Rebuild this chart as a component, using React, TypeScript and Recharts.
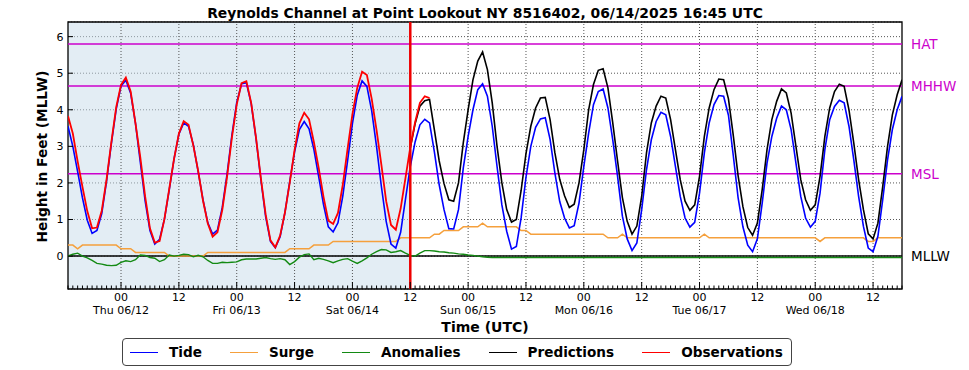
import { CartesianGrid, Line, LineChart, ReferenceArea, ReferenceLine, XAxis, YAxis } from "recharts";

// hours are counted from Thu 06/12 00:00 UTC; the series start at 06/11 13:00
const startHour = -11;
const forecastStart = 60;

const tide = [
  3.55, 3.0, 2.31, 1.59, 0.98, 0.62, 0.7, 1.16, 2.05, 3.08, 4.02,
  4.65, 4.81, 4.45, 3.63, 2.57, 1.51, 0.7, 0.33, 0.46, 1.01,
  1.81, 2.66, 3.33, 3.64, 3.55, 3.04, 2.31, 1.54, 0.91, 0.6,
  0.71, 1.33, 2.25, 3.31, 4.2, 4.71, 4.74, 4.17, 3.22, 2.1,
  1.08, 0.4, 0.23, 0.53, 1.19, 2.04, 2.85, 3.46, 3.68, 3.48,
  2.92, 2.17, 1.41, 0.8, 0.66, 0.91, 1.64, 2.61, 3.62, 4.4,
  4.79, 4.64, 3.97, 3.0, 1.91, 0.95, 0.33, 0.22, 0.65, 1.55,
  2.45, 3.12, 3.59, 3.74, 3.64, 2.85, 1.95, 1.27, 0.75, 0.74,
  1.27, 2.41, 3.27, 4.0, 4.55, 4.71, 4.37, 3.55, 2.45, 1.4,
  0.68, 0.19, 0.26, 1.05, 2.15, 3.0, 3.52, 3.75, 3.78, 3.19,
  2.27, 1.49, 1.04, 0.77, 0.83, 1.45, 2.45, 3.36, 4.14, 4.5,
  4.57, 4.05, 3.18, 2.18, 1.09, 0.47, 0.15, 0.36, 1.27, 2.36,
  3.18, 3.68, 3.93, 3.86, 3.27, 2.45, 1.63, 1.04, 0.79, 0.92,
  1.72, 2.82, 3.64, 4.14, 4.39, 4.37, 3.85, 2.75, 1.6, 0.8,
  0.3, 0.12, 0.47, 1.45, 2.54, 3.27, 3.77, 4.1, 4.0, 3.46,
  2.54, 1.63, 1.04, 0.79, 0.95, 1.72, 2.91, 3.73, 4.09, 4.26,
  4.19, 3.55, 2.63, 1.63, 0.81, 0.22, 0.12, 0.54, 1.54, 2.63,
  3.46, 4.0, 4.37,
];

const surge = [
  0.3, 0.3, 0.2, 0.3, 0.3, 0.3, 0.3, 0.3, 0.3, 0.3, 0.3,
  0.2, 0.2, 0.2, 0.1, 0.1, 0.1, 0.1, 0.1, 0.1, 0.1,
  0.0, 0.0, 0.0, 0.0, 0.0, 0.0, 0.0, 0.0, 0.1, 0.1,
  0.1, 0.1, 0.1, 0.1, 0.1, 0.1, 0.1, 0.1, 0.1, 0.1,
  0.1, 0.1, 0.1, 0.1, 0.1, 0.2, 0.2, 0.2, 0.2, 0.2,
  0.3, 0.3, 0.3, 0.3, 0.4, 0.4, 0.4, 0.4, 0.4, 0.4,
  0.4, 0.4, 0.4, 0.4, 0.4, 0.4, 0.4, 0.4, 0.5, 0.5,
  0.5, 0.5, 0.5, 0.5, 0.5, 0.6, 0.6, 0.7, 0.7, 0.7,
  0.7, 0.8, 0.8, 0.8, 0.8, 0.9, 0.8, 0.8, 0.8, 0.8,
  0.8, 0.8, 0.8, 0.7, 0.7, 0.6, 0.6, 0.6, 0.6, 0.6,
  0.6, 0.6, 0.6, 0.6, 0.6, 0.6, 0.6, 0.6, 0.6, 0.6,
  0.6, 0.5, 0.5, 0.5, 0.6, 0.5, 0.5, 0.5, 0.5, 0.5,
  0.5, 0.5, 0.5, 0.5, 0.5, 0.5, 0.5, 0.5, 0.5, 0.5,
  0.5, 0.6, 0.5, 0.5, 0.5, 0.5, 0.5, 0.5, 0.5, 0.5,
  0.5, 0.5, 0.5, 0.5, 0.5, 0.5, 0.5, 0.5, 0.5, 0.5,
  0.5, 0.5, 0.5, 0.5, 0.5, 0.4, 0.5, 0.5, 0.5, 0.5,
  0.5, 0.5, 0.5, 0.5, 0.5, 0.4, 0.4, 0.5, 0.5, 0.5,
  0.5, 0.5, 0.5,
];

const anomalies = [
  0.0, 0.05, 0.08, 0.0, -0.05, -0.12, -0.2, -0.22, -0.25, -0.26, -0.25,
  -0.17, -0.13, -0.15, -0.1, 0.03, 0.02, -0.04, -0.06, -0.15, -0.1,
  0.03, 0.0, 0.02, 0.05, 0.04, -0.02, 0.02, -0.02, -0.12, -0.2,
  -0.2, -0.17, -0.18, -0.17, -0.16, -0.1, -0.08, -0.08, -0.08, -0.06,
  -0.04, -0.07, -0.09, -0.07, -0.1, -0.23, -0.15, -0.03, 0.04, 0.06,
  -0.1, -0.06, -0.09, -0.13, -0.18, -0.13, -0.09, -0.07, -0.14, -0.2,
  -0.13, -0.05, 0.05, 0.12, 0.18, 0.17, 0.1, 0.12, 0.15, 0.08,
  0.02, 0.0, 0.08, 0.15, 0.15, 0.14, 0.12, 0.11, 0.09, 0.08,
  0.06, 0.05, 0.03, 0.02, 0.0, -0.02, -0.03, -0.04, -0.04, -0.04,
  -0.04, -0.04, -0.04, -0.04, -0.04, -0.04, -0.04, -0.04, -0.04, -0.04,
  -0.04, -0.04, -0.04, -0.04, -0.04, -0.04, -0.04, -0.04, -0.04, -0.04,
  -0.04, -0.04, -0.04, -0.04, -0.04, -0.04, -0.04, -0.04, -0.04, -0.04,
  -0.04, -0.04, -0.04, -0.04, -0.04, -0.04, -0.04, -0.04, -0.04, -0.04,
  -0.04, -0.04, -0.04, -0.04, -0.04, -0.04, -0.04, -0.04, -0.04, -0.04,
  -0.04, -0.04, -0.04, -0.04, -0.04, -0.04, -0.04, -0.04, -0.04, -0.04,
  -0.04, -0.04, -0.04, -0.04, -0.04, -0.04, -0.04, -0.04, -0.04, -0.04,
  -0.04, -0.04, -0.04, -0.04, -0.04, -0.04, -0.04, -0.04, -0.04, -0.04,
  -0.04, -0.04, -0.04,
];

// from 06/14 12:00 onward
const predictions = [
  2.95, 3.62, 4.1, 4.25, 4.28, 3.45, 2.6, 1.98, 1.54, 1.5,
  2.0, 3.1, 4.0, 4.82, 5.33, 5.58, 5.1, 4.19, 3.0, 2.0,
  1.27, 0.93, 1.0, 1.8, 2.8, 3.55, 4.05, 4.32, 4.34, 3.73,
  2.82, 2.1, 1.65, 1.33, 1.42, 2.0, 2.91, 4.0, 4.69, 5.08,
  5.12, 4.6, 3.64, 2.6, 1.6, 0.95, 0.6, 0.82, 1.63, 2.82,
  3.64, 4.1, 4.37, 4.32, 3.73, 2.91, 2.09, 1.5, 1.25, 1.4,
  2.18, 3.27, 4.05, 4.55, 4.84, 4.82, 4.3, 3.3, 2.2, 1.35,
  0.78, 0.57, 0.9, 1.82, 2.91, 3.73, 4.23, 4.57, 4.46, 3.91,
  3.0, 2.09, 1.54, 1.25, 1.4, 2.18, 3.27, 4.05, 4.5, 4.7,
  4.64, 4.0, 3.09, 2.09, 1.27, 0.61, 0.47, 0.9, 1.9, 3.0,
  3.86, 4.41, 4.82,
];

const observations = [
  3.83, 3.35, 2.59, 1.89, 1.23, 0.76, 0.78, 1.24, 2.1, 3.12, 4.07,
  4.68, 4.88, 4.5, 3.63, 2.7, 1.63, 0.76, 0.37, 0.41, 1.01,
  1.84, 2.66, 3.35, 3.69, 3.59, 3.02, 2.33, 1.52, 0.89, 0.53,
  0.65, 1.26, 2.17, 3.24, 4.14, 4.73, 4.78, 4.19, 3.24, 2.14,
  1.14, 0.43, 0.24, 0.56, 1.19, 2.01, 2.9, 3.63, 3.92, 3.74,
  3.12, 2.41, 1.62, 0.97, 0.88, 1.18, 1.95, 2.94, 3.88, 4.6,
  5.04, 4.95, 4.3, 3.45, 2.5, 1.5, 0.85, 0.72, 1.3, 2.13,
  2.97, 3.66, 4.19, 4.37, 4.32,
];

const dayLabels = ["Thu 06/12", "Fri 06/13", "Sat 06/14", "Sun 06/15", "Mon 06/16", "Tue 06/17", "Wed 06/18"];
const datums = [
  { name: "HAT", value: 5.8 },
  { name: "MHHW", value: 4.65 },
  { name: "MSL", value: 2.25 },
];
const yTicks = [0, 1, 2, 3, 4, 5, 6];

const legendItems = [
  { label: "Tide", color: "#0000ff" },
  { label: "Surge", color: "#f5a03c" },
  { label: "Anomalies", color: "#138a13" },
  { label: "Predictions", color: "#000000" },
  { label: "Observations", color: "#ff0000" },
];

const rows = tide.map((t, i) => {
  const h = startHour + i;
  const p = h - forecastStart;
  return {
    h,
    tide: t,
    surge: surge[i],
    anomaly: anomalies[i],
    prediction: p >= 0 ? predictions[p] : undefined,
    observation: i < observations.length ? observations[i] : undefined,
  };
});
const hourTicks = rows.map((r) => r.h);
const majorTicks = hourTicks.filter((h) => h % 12 === 0);
const xMin = hourTicks[0];
const xMax = hourTicks[hourTicks.length - 1];
const yDomain: [number, number] = [-0.9, 6.4];

const FONT = "DejaVu Sans";
const MAGENTA = "#cc00cc";

function HourTick(props: any) {
  const { x, y, payload } = props;
  const h = payload.value as number;
  if (h % 12 !== 0) return <line x1={x} x2={x} y1={y} y2={y - 3.5} stroke="#000" strokeWidth={1} />;
  const midnight = h % 24 === 0;
  return (
    <g>
      <line x1={x} x2={x} y1={y} y2={y - 7} stroke="#000" strokeWidth={1} />
      <text x={x} y={y + 12} textAnchor="middle" fontSize={11} fill="#000" fontFamily={FONT}>
        {midnight ? "00" : "12"}
      </text>
      {midnight && (
        <text x={x} y={y + 24.5} textAnchor="middle" fontSize={11} fill="#000" fontFamily={FONT}>
          {dayLabels[h / 24]}
        </text>
      )}
    </g>
  );
}

function HeightTick(props: any) {
  const { x, y, payload } = props;
  return (
    <g>
      <line x1={x} x2={x + 5} y1={y} y2={y} stroke="#000" strokeWidth={1} />
      <text x={x - 4.5} y={y} dy="0.36em" textAnchor="end" fontSize={11} fill="#000" fontFamily={FONT}>
        {payload.value}
      </text>
    </g>
  );
}

export default function App() {
  return (
    <div style={{ position: "relative", width: 969, height: 370, background: "#fff", fontFamily: FONT }}>
      <style>{"body{margin:0}"}</style>
      <LineChart
        width={969}
        height={370}
        data={rows}
        margin={{ top: 22, right: 67, bottom: 0, left: 0 }}
        style={{ fontFamily: FONT }}
      >
        <ReferenceArea x1={xMin} x2={forecastStart} y1={yDomain[0]} y2={yDomain[1]} fill="#c8dcea" fillOpacity={0.5} stroke="none" />
        <CartesianGrid vertical={false} stroke="#555" strokeDasharray="1 2" />
        {majorTicks.map((h) => (
          <ReferenceLine key={h} x={h} stroke="#555" strokeDasharray="1 2" />
        ))}
        <XAxis
          dataKey="h"
          type="number"
          domain={[xMin, xMax]}
          ticks={hourTicks}
          interval={0}
          allowDataOverflow
          height={81}
          axisLine={false}
          tickLine={false}
          tickSize={0}
          tickMargin={0}
          tick={HourTick}
        />
        <YAxis
          type="number"
          domain={yDomain}
          ticks={yTicks}
          interval={0}
          allowDataOverflow
          width={68}
          axisLine={false}
          tickLine={false}
          tickSize={0}
          tickMargin={0}
          tick={HeightTick}
        />
        {datums.map((d) => (
          <ReferenceLine
            key={d.name}
            y={d.value}
            stroke={MAGENTA}
            strokeWidth={1.5}
            label={{ value: d.name, position: "right", offset: 9, fill: MAGENTA, fontSize: 13.5, fontFamily: FONT }}
          />
        ))}
        <ReferenceLine
          y={0}
          stroke="#000"
          strokeWidth={1.5}
          label={{ value: "MLLW", position: "right", offset: 9, fill: "#000", fontSize: 13.5, fontFamily: FONT }}
        />
        <Line dataKey="surge" stroke="#f5a03c" strokeWidth={1.5} dot={false} type="linear" isAnimationActive={false} />
        <Line dataKey="anomaly" stroke="#138a13" strokeWidth={1.4} dot={false} type="linear" isAnimationActive={false} />
        <Line dataKey="tide" stroke="#0000ff" strokeWidth={1.6} dot={false} type="linear" isAnimationActive={false} />
        <Line dataKey="prediction" stroke="#000" strokeWidth={1.6} dot={false} type="linear" isAnimationActive={false} />
        <Line dataKey="observation" stroke="#ff0000" strokeWidth={1.8} dot={false} type="linear" isAnimationActive={false} />
        <ReferenceLine x={forecastStart} stroke="#ee0000" strokeWidth={2.5} />
        <ReferenceArea x1={xMin} x2={xMax} y1={yDomain[0]} y2={yDomain[1]} fill="none" stroke="#000" strokeWidth={1.3} />
      </LineChart>

      <svg width={969} height={370} style={{ position: "absolute", left: 0, top: 0, pointerEvents: "none" }}>
        <text x={485} y={17.5} textAnchor="middle" fontSize={13.9} fontWeight="bold" fontFamily={FONT}>
          Reynolds Channel at Point Lookout NY 8516402, 06/14/2025 16:45 UTC
        </text>
        <text transform="translate(47,156.5) rotate(-90)" textAnchor="middle" fontSize={13.7} fontWeight="bold" fontFamily={FONT}>
          Height in Feet (MLLW)
        </text>
        <text x={485} y={331.5} textAnchor="middle" fontSize={14} fontWeight="bold" fontFamily={FONT}>
          Time (UTC)
        </text>
      </svg>

      <div
        style={{
          position: "absolute",
          left: 122,
          top: 338,
          height: 28,
          boxSizing: "border-box",
          border: "1px solid #444",
          borderRadius: 4,
          display: "flex",
          alignItems: "center",
          padding: "0 8px 0 7px",
          background: "#fff",
          fontFamily: FONT,
          fontWeight: "bold",
          fontSize: 13.6,
          whiteSpace: "nowrap",
        }}
      >
        {legendItems.map((item, i) => (
          <div key={item.label} style={{ display: "flex", alignItems: "center", marginLeft: i === 0 ? 0 : 28 }}>
            <span style={{ display: "inline-block", width: 28, borderTop: `1.5px solid ${item.color}`, marginRight: 11 }} />
            <span>{item.label}</span>
          </div>
        ))}
      </div>
    </div>
  );
}
